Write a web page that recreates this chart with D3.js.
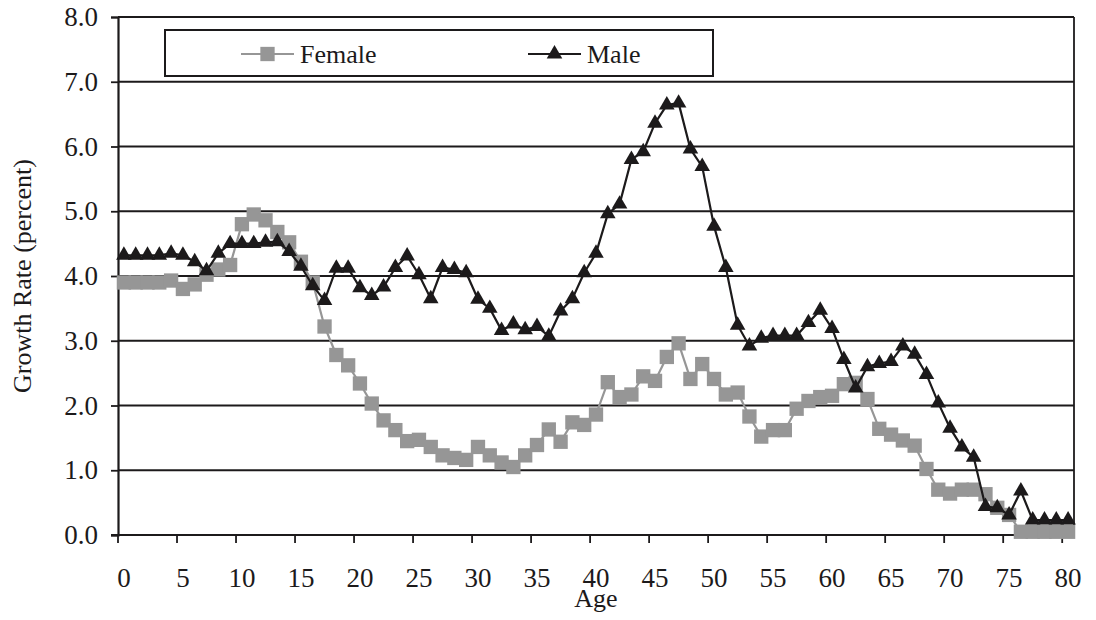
<!DOCTYPE html>
<html>
<head>
<meta charset="utf-8">
<script src="https://cdn.jsdelivr.net/npm/d3@7"></script>
<style>
  body { margin: 0; background: #fff; }
  svg { display: block; font-family: "Liberation Serif", "DejaVu Serif", serif; }
</style>
</head>
<body>
<svg id="myGraph" width="1096" height="620"></svg>
<script>
// ages 0..80
var ages = d3.range(0, 81);
var yTicks = [0, 1, 2, 3, 4, 5, 6, 7, 8];
var xTickAges = [0, 5, 10, 15, 20, 25, 30, 35, 40, 45, 50, 55, 60, 65, 70, 75, 80];

var female = [
  3.9, 3.9, 3.9, 3.9, 3.93, 3.8, 3.87, 4.02, 4.1, 4.17,
  4.8, 4.95, 4.86, 4.68, 4.52, 4.22, 3.9, 3.22, 2.78, 2.62,
  2.34, 2.03, 1.77, 1.62, 1.45, 1.47, 1.36, 1.23, 1.19, 1.16,
  1.36, 1.23, 1.12, 1.05, 1.23, 1.39, 1.63, 1.44, 1.74, 1.7,
  1.86, 2.36, 2.13, 2.17, 2.45, 2.38, 2.75, 2.96, 2.41, 2.64,
  2.41, 2.17, 2.2, 1.83, 1.52, 1.62, 1.62, 1.95, 2.07, 2.13,
  2.15, 2.33, 2.35, 2.1, 1.64, 1.55, 1.46, 1.38, 1.02, 0.7,
  0.64, 0.7, 0.7, 0.63, 0.42, 0.31, 0.05, 0.05, 0.05, 0.05, 0.05
];
var male = [
  4.32, 4.32, 4.32, 4.32, 4.35, 4.32, 4.22, 4.08, 4.35, 4.5,
  4.5, 4.5, 4.52, 4.53, 4.38, 4.15, 3.85, 3.62, 4.12, 4.12,
  3.82, 3.7, 3.83, 4.13, 4.31, 4.02, 3.65, 4.13, 4.1, 4.05,
  3.64, 3.5, 3.16, 3.26, 3.17, 3.22, 3.07, 3.46, 3.65, 4.05,
  4.35, 4.96, 5.11, 5.8, 5.92, 6.36, 6.64, 6.67, 5.96, 5.69,
  4.77, 4.13, 3.24, 2.92, 3.04, 3.08, 3.08, 3.08, 3.28, 3.47,
  3.19, 2.71, 2.27, 2.6, 2.65, 2.68, 2.92, 2.79, 2.48, 2.04,
  1.65, 1.36, 1.2, 0.44, 0.42, 0.31, 0.68, 0.23, 0.23, 0.23, 0.23
];

var pLeft = 118, pRight = 1074, pTop = 17, pBottom = 535;
var ink = "#1c1a1b", grey = "#969696";

var svg = d3.select("#myGraph");

var x = d3.scaleBand().domain(ages).range([pLeft, pRight]).padding(0);
var cx = function(a){ return x(a) + x.bandwidth() / 2; };
var y = d3.scaleLinear().domain([0, 8]).range([pBottom, pTop]);

// horizontal grid lines
svg.append("g")
  .selectAll("line")
  .data(yTicks)
  .enter()
  .append("line")
  .attr("x1", pLeft).attr("x2", pRight)
  .attr("y1", function(d){ return y(d); })
  .attr("y2", function(d){ return y(d); })
  .attr("stroke", ink)
  .attr("stroke-width", 1.8);

// right border
svg.append("line")
  .attr("x1", pRight).attr("x2", pRight)
  .attr("y1", pTop).attr("y2", pBottom)
  .attr("stroke", ink).attr("stroke-width", 1.8);

// y axis
var yAxis = d3.axisLeft(y)
  .tickValues(yTicks)
  .tickSize(7)
  .tickPadding(13)
  .tickFormat(d3.format(".1f"));
var gy = svg.append("g").attr("transform", "translate(" + pLeft + ",0)").call(yAxis);
gy.select(".domain").attr("stroke", ink).attr("stroke-width", 2.2);
gy.selectAll(".tick line").attr("stroke", ink).attr("stroke-width", 1.8);
gy.selectAll(".tick text")
  .attr("fill", ink)
  .style("font-family", "Liberation Serif")
  .style("font-size", "27px");

// x axis: ticks on category boundaries, labels on category centres
var gx = svg.append("g").attr("transform", "translate(0," + pBottom + ")");
gx.append("line")
  .attr("x1", pLeft - 7).attr("x2", pRight)
  .attr("stroke", ink).attr("stroke-width", 2.2);
gx.selectAll("line.tk")
  .data(xTickAges)
  .enter()
  .append("line")
  .attr("class", "tk")
  .attr("x1", function(d){ return x(d); })
  .attr("x2", function(d){ return x(d); })
  .attr("y1", 0).attr("y2", 8)
  .attr("stroke", ink).attr("stroke-width", 1.8);
gx.selectAll("text")
  .data(xTickAges)
  .enter()
  .append("text")
  .attr("x", function(d){ return cx(d); })
  .attr("y", 52)
  .attr("text-anchor", "middle")
  .attr("fill", ink)
  .style("font-size", "27px")
  .text(function(d){ return d; });

// axis titles
svg.append("text")
  .attr("x", (pLeft + pRight) / 2)
  .attr("y", 607)
  .attr("text-anchor", "middle")
  .attr("fill", ink)
  .style("font-size", "26px")
  .text("Age");
svg.append("text")
  .attr("transform", "translate(31," + ((pTop + pBottom) / 2) + ") rotate(-90)")
  .attr("text-anchor", "middle")
  .attr("fill", ink)
  .style("font-size", "26px")
  .text("Growth Rate (percent)");

var line = function(vals){
  return d3.line()
    .x(function(d, i){ return cx(ages[i]); })
    .y(function(d){ return y(d); })(vals);
};
var square = d3.symbol().type(d3.symbolSquare).size(205);
var tri = d3.symbol().type(d3.symbolTriangle).size(105);

// female
svg.append("path")
  .attr("d", line(female))
  .attr("fill", "none")
  .attr("stroke", grey)
  .attr("stroke-width", 2.2);
svg.append("g")
  .selectAll("path")
  .data(female)
  .enter()
  .append("path")
  .attr("d", square)
  .attr("transform", function(d, i){ return "translate(" + cx(ages[i]) + "," + y(d) + ")"; })
  .attr("fill", grey);

// male
svg.append("path")
  .attr("d", line(male))
  .attr("fill", "none")
  .attr("stroke", ink)
  .attr("stroke-width", 2.2);
svg.append("g")
  .selectAll("path")
  .data(male)
  .enter()
  .append("path")
  .attr("d", tri)
  .attr("transform", function(d, i){ return "translate(" + cx(ages[i]) + "," + y(d) + ")"; })
  .attr("fill", ink);

// legend
var lg = svg.append("g");
lg.append("rect")
  .attr("x", 165).attr("y", 30)
  .attr("width", 548).attr("height", 46)
  .attr("fill", "#fff")
  .attr("stroke", ink).attr("stroke-width", 2);
lg.append("line").attr("x1", 241).attr("x2", 294).attr("y1", 54).attr("y2", 54)
  .attr("stroke", grey).attr("stroke-width", 2.2);
lg.append("path").attr("d", square).attr("transform", "translate(267.5,54)").attr("fill", grey);
lg.append("text").attr("x", 300).attr("y", 63).attr("fill", ink)
  .style("font-size", "26px").text("Female");
lg.append("line").attr("x1", 528).attr("x2", 581).attr("y1", 54).attr("y2", 54)
  .attr("stroke", ink).attr("stroke-width", 2.2);
lg.append("path").attr("d", tri).attr("transform", "translate(554.5,54)").attr("fill", ink);
lg.append("text").attr("x", 587).attr("y", 63).attr("fill", ink)
  .style("font-size", "26px").text("Male");
</script>
</body>
</html>
